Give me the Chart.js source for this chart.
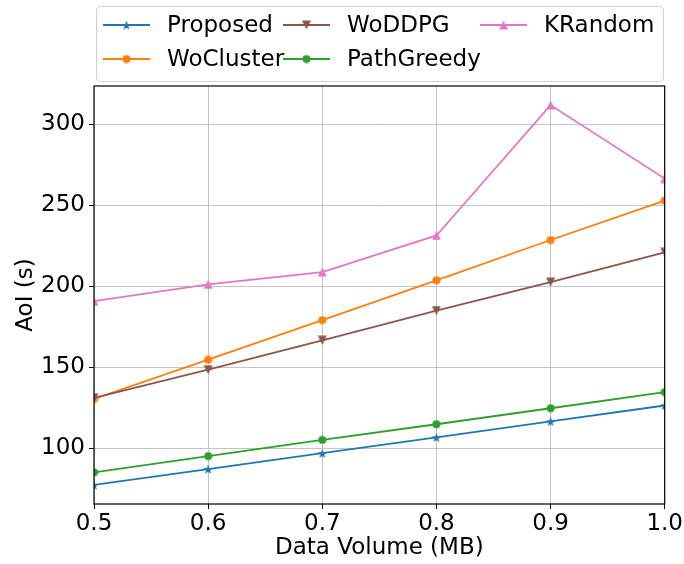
<!DOCTYPE html>
<html lang="en">
<head>
<meta charset="UTF-8">
<title>AoI vs Data Volume</title>
<script src="https://cdn.jsdelivr.net/npm/chart.js"></script>
<style>
  html, body { margin: 0; padding: 0; background: #fff; }
</style>
</head>
<body>
<canvas id="myChart" width="684" height="564"></canvas>
<script>
// values
const dataVolume = [0.5, 0.6, 0.7, 0.8, 0.9, 1.0];
const proposed   = [77.2, 87.0, 96.8, 106.6, 116.5, 126.3];
const woCluster  = [130.3, 154.6, 179.1, 203.7, 228.6, 253.0];
const woDDPG     = [131.0, 148.4, 166.6, 185.0, 202.6, 221.0];
const pathGreedy = [85.0, 95.0, 105.0, 114.7, 124.6, 134.6];
const kRandom    = [190.8, 201.2, 208.8, 231.4, 312.0, 266.6];
const xTicks = [0.5, 0.6, 0.7, 0.8, 0.9, 1.0];
const yTicks = [100, 150, 200, 250, 300];

const FONT = "'DejaVu Sans', sans-serif";

// small filled marker images, matplotlib style
function makeMarker(shape, color, size) {
    const c = document.createElement('canvas');
    c.width = size; c.height = size;
    const g = c.getContext('2d');
    const r = size / 2;
    g.fillStyle = color;
    g.beginPath();
    if (shape === 'circle') {
        g.arc(r, r, r - 0.5, 0, Math.PI * 2);
    } else if (shape === 'star') {
        const ro = r, ri = r * 0.42;
        for (let i = 0; i < 10; i++) {
            const rad = i % 2 ? ri : ro;
            const a = -Math.PI / 2 + i * Math.PI / 5;
            const px = r + rad * Math.cos(a), py = r + 0.6 + rad * Math.sin(a);
            i ? g.lineTo(px, py) : g.moveTo(px, py);
        }
    } else if (shape === 'triUp') {
        g.moveTo(r, 0.5);
        g.lineTo(size - 0.5, size - 0.5);
        g.lineTo(0.5, size - 0.5);
    } else if (shape === 'triDown') {
        g.moveTo(0.5, 0.5);
        g.lineTo(size - 0.5, 0.5);
        g.lineTo(r, size - 0.5);
    }
    g.closePath();
    g.fill();
    return c;
}

const series = [
    { label: 'Proposed',   values: proposed,   color: '#1f77b4', marker: makeMarker('star', '#1f77b4', 10) },
    { label: 'WoCluster',  values: woCluster,  color: '#ff7f0e', marker: makeMarker('circle', '#ff7f0e', 9) },
    { label: 'WoDDPG',     values: woDDPG,     color: '#8c564b', marker: makeMarker('triDown', '#8c564b', 10) },
    { label: 'PathGreedy', values: pathGreedy, color: '#2ca02c', marker: makeMarker('circle', '#2ca02c', 9) },
    { label: 'KRandom',    values: kRandom,    color: '#e377c2', marker: makeMarker('triUp', '#e377c2', 10) },
];

const framePlugin = {
    id: 'frame',
    afterDraw(chart) {
        const { ctx, chartArea: a } = chart;
        ctx.save();
        ctx.strokeStyle = '#000';
        ctx.lineWidth = 1.2;
        ctx.strokeRect(a.left, a.top, a.right - a.left, a.bottom - a.top);
        ctx.restore();
    }
};

// matplotlib-like legend: 3 columns, filled column by column
const legendPlugin = {
    id: 'mplLegend',
    afterDraw(chart) {
        const ctx = chart.ctx;
        const box = { x: 96, y: 6, w: 567, h: 75 };
        const colX = [103, 283, 480];
        const rowY = [25, 59];
        ctx.save();
        ctx.fillStyle = 'rgba(255,255,255,0.9)';
        ctx.strokeStyle = '#d0d0d0';
        ctx.lineWidth = 1;
        ctx.beginPath();
        ctx.roundRect(box.x + 0.5, box.y + 0.5, box.w, box.h, 4);
        ctx.fill();
        ctx.stroke();
        ctx.font = '23px ' + FONT;
        ctx.textBaseline = 'middle';
        ctx.fillStyle = '#000';
        chart.data.datasets.forEach((ds, i) => {
            const x = colX[Math.floor(i / 2)], y = rowY[i % 2];
            ctx.strokeStyle = ds.borderColor;
            ctx.lineWidth = ds.borderWidth;
            ctx.beginPath();
            ctx.moveTo(x, y);
            ctx.lineTo(x + 47, y);
            ctx.stroke();
            const m = ds.pointStyle;
            ctx.drawImage(m, x + 23.5 - m.width / 2, y - m.height / 2);
            ctx.fillText(ds.label, x + 64, y + 1);
        });
        ctx.restore();
    }
};

new Chart(document.getElementById('myChart'), {
    type: 'line',
    data: {
        datasets: series.map((s, i) => ({
            label: s.label,
            data: dataVolume.map((x, j) => ({ x: x, y: s.values[j] })),
            borderColor: s.color,
            backgroundColor: s.color,
            borderWidth: 1.8,
            pointStyle: s.marker,
            pointRadius: 5,
            tension: 0,
            fill: false,
            order: series.length - i,
        }))
    },
    options: {
        responsive: false,
        animation: false,
        layout: { padding: { top: 86, right: 19, left: 0, bottom: 0 } },
        plugins: {
            legend: { display: false },
            tooltip: { enabled: false },
        },
        scales: {
            x: {
                type: 'linear',
                min: 0.5,
                max: 1.0,
                afterFit: (scale) => { scale.height = 60; },
                afterBuildTicks: (scale) => { scale.ticks = xTicks.map(v => ({ value: v })); },
                grid: { color: '#c4c4c4', lineWidth: 1, tickColor: '#000', tickLength: 5 },
                border: { display: false },
                ticks: {
                    color: '#000',
                    font: { family: FONT, size: 23 },
                    padding: 1,
                    maxRotation: 0,
                    callback: (v) => Number(v).toFixed(1),
                },
                title: {
                    display: true,
                    text: 'Data Volume (MB)',
                    color: '#000',
                    font: { family: FONT, size: 23 },
                    padding: { top: 0, bottom: 2 },
                },
            },
            y: {
                min: 65.4,
                max: 323.8,
                afterFit: (scale) => { scale.width = 94; },
                afterBuildTicks: (scale) => { scale.ticks = yTicks.map(v => ({ value: v })); },
                grid: { color: '#c4c4c4', lineWidth: 1, tickColor: '#000', tickLength: 5 },
                border: { display: false },
                ticks: {
                    color: '#000',
                    font: { family: FONT, size: 23 },
                    padding: 4,
                },
                title: {
                    display: true,
                    text: 'AoI (s)',
                    color: '#000',
                    font: { family: FONT, size: 23 },
                    padding: { top: 12, bottom: 0 },
                },
            },
        },
    },
    plugins: [framePlugin, legendPlugin],
});
</script>
</body>
</html>
